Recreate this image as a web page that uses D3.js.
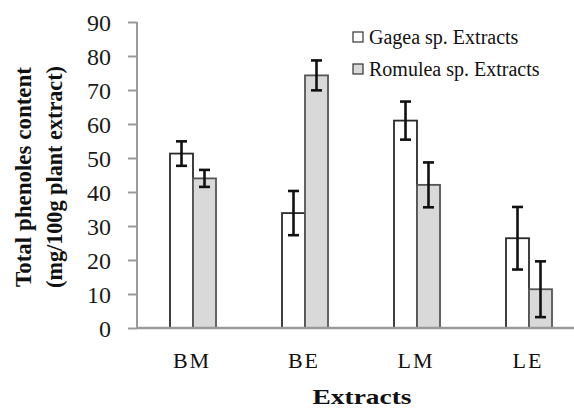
<!DOCTYPE html>
<html>
<head>
<meta charset="utf-8">
<script src="https://cdn.jsdelivr.net/npm/d3@7"></script>
<style>
body { margin: 0; background: #fff; }
svg { font-family: "Liberation Serif", "Times New Roman", serif; }
</style>
</head>
<body>
<div id="chart"></div>
<script>
// data
var categories = ["BM", "BE", "LM", "LE"];
var series = ["Gagea sp. Extracts", "Romulea sp. Extracts"];
var gageaValues = [51.3, 33.8, 61.0, 26.4];
var gageaErrors = [3.6, 6.5, 5.6, 9.2];
var romuleaValues = [44.0, 74.3, 42.1, 11.4];
var romuleaErrors = [2.5, 4.4, 6.6, 8.2];
var yTicks = [0, 10, 20, 30, 40, 50, 60, 70, 80, 90];

var w = 574,
	h = 410;

var root = d3.select("#chart").append("svg").attr("width", w).attr("height", h);

var x = d3.scaleBand().domain(categories).range([137, 585]);
var xSub = d3.scaleBand().domain(series).range([33, 79]);
var y = d3.scaleLinear().domain([0, 90]).range([328, 22]);

var fills = ["#ffffff", "#d9d9d9"];
var strokes = ["#2a2a2a", "#555555"];

var rows = [];
for (var i = 0; i < categories.length; i++) {
	rows.push({ cat: categories[i], s: series[0], v: gageaValues[i], e: gageaErrors[i], k: 0 });
	rows.push({ cat: categories[i], s: series[1], v: romuleaValues[i], e: romuleaErrors[i], k: 1 });
}

// y axis
var yAxis = root.append("g").attr("transform", "translate(137,0)")
	.call(d3.axisLeft(y).tickValues(yTicks).tickSize(9).tickPadding(17));
yAxis.attr("font-family", null);
yAxis.select(".domain").attr("stroke", "#9a9a9a").attr("stroke-width", 2).attr("d", "M0," + y(90) + "V" + y(0));
yAxis.selectAll(".tick line").attr("stroke", "#9a9a9a").attr("stroke-width", 2);
yAxis.selectAll(".tick text").attr("font-size", 24).attr("fill", "#1a1a1a").attr("dy", "0.34em");

// bars
root.selectAll("rect.bar").data(rows).enter().append("rect").classed("bar", true)
	.attr("x", function(d) { return x(d.cat) + xSub(d.s); })
	.attr("y", function(d) { return y(d.v); })
	.attr("width", xSub.bandwidth())
	.attr("height", function(d) { return y(0) - y(d.v); })
	.attr("fill", function(d) { return fills[d.k]; })
	.attr("stroke", function(d) { return strokes[d.k]; })
	.attr("stroke-width", 1.8);

// x axis line on top of bars
root.append("line").attr("x1", 137).attr("x2", w).attr("y1", y(0)).attr("y2", y(0))
	.attr("stroke", "#9a9a9a").attr("stroke-width", 2.5);

// error bars
var err = root.selectAll("g.err").data(rows).enter().append("g").classed("err", true)
	.attr("transform", function(d) { return "translate(" + (x(d.cat) + xSub(d.s) + xSub.bandwidth() / 2) + ",0)"; })
	.attr("stroke", "#111").attr("stroke-width", 2.6);
err.append("line").attr("y1", function(d) { return y(d.v + d.e); }).attr("y2", function(d) { return y(d.v - d.e); });
err.append("line").attr("x1", -5.5).attr("x2", 5.5).attr("y1", function(d) { return y(d.v + d.e); }).attr("y2", function(d) { return y(d.v + d.e); });
err.append("line").attr("x1", -5.5).attr("x2", 5.5).attr("y1", function(d) { return y(d.v - d.e); }).attr("y2", function(d) { return y(d.v - d.e); });

// category labels
root.selectAll("text.cat").data(categories).enter().append("text").classed("cat", true)
	.attr("x", function(d) { return x(d) + x.bandwidth() / 2 - 1; })
	.attr("y", 368)
	.attr("text-anchor", "middle")
	.attr("font-size", 22)
	.attr("letter-spacing", 2)
	.attr("fill", "#111")
	.text(function(d) { return d; });

// axis titles
root.append("text").attr("x", 362).attr("y", 404).attr("text-anchor", "middle")
	.attr("font-size", 22).attr("font-weight", "bold").attr("fill", "#111")
	.attr("textLength", 99).attr("lengthAdjust", "spacingAndGlyphs")
	.text("Extracts");

var yTitle = root.append("g").attr("transform", "translate(0,177) rotate(-90)");
yTitle.append("text").attr("x", 0).attr("y", 31).attr("text-anchor", "middle")
	.attr("font-size", 24).attr("font-weight", "bold").attr("fill", "#111")
	.attr("textLength", 220).attr("lengthAdjust", "spacingAndGlyphs")
	.text("Total phenoles content");
yTitle.append("text").attr("x", 0).attr("y", 62).attr("text-anchor", "middle")
	.attr("font-size", 24).attr("font-weight", "bold").attr("fill", "#111")
	.attr("textLength", 222).attr("lengthAdjust", "spacingAndGlyphs")
	.text("(mg/100g plant extract)");

// legend
var legend = root.selectAll("g.legend").data(series).enter().append("g").classed("legend", true)
	.attr("transform", function(d, i) { return "translate(353," + (32 + i * 32) + ")"; });
legend.append("rect").attr("width", 10).attr("height", 10)
	.attr("fill", function(d, i) { return fills[i]; })
	.attr("stroke", "#333").attr("stroke-width", 1.2);
legend.append("text").attr("x", 16).attr("y", 12).attr("font-size", 20).attr("fill", "#111")
	.text(function(d) { return d; });
</script>
</body>
</html>
